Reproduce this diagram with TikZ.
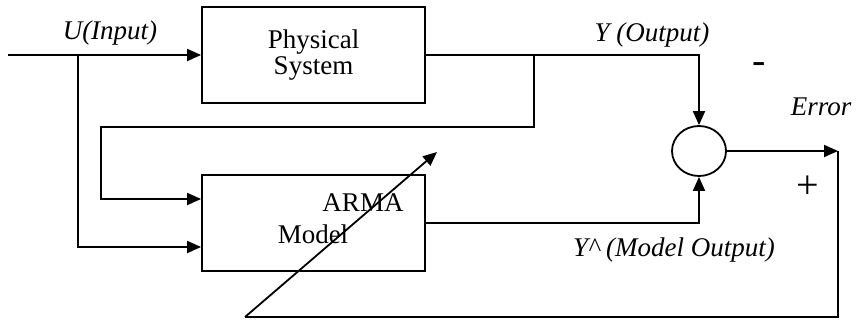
\documentclass[tikz,border=0pt]{standalone}
\usepackage{fontspec}
\setmainfont{Liberation Serif}
\usetikzlibrary{arrows.meta,shapes.geometric}
\begin{document}
\begin{tikzpicture}[x=0.5pt,y=-0.5pt,
  line width=0.9pt,
  arr/.style={-{Triangle[length=7pt,width=6pt]}},
  blockbox/.style={draw,rectangle,minimum width=111.5pt,minimum height=48pt,
    inner sep=0pt,align=center,font=\fontsize{13.5}{15}\selectfont},
  sumnode/.style={draw,ellipse,minimum width=27pt,minimum height=25pt,inner sep=0pt},
  lbl/.style={font=\fontsize{13.5}{15}\selectfont\itshape,inner sep=0pt},
  sgn/.style={font=\fontsize{20}{22}\selectfont,inner sep=0pt}]
\useasboundingbox (0,0) rectangle (856,322);

% blocks
\node[blockbox] (phys) at (313.5,55) {Physical\\[-2pt]System};
\node[blockbox] (arma) at (313.5,223) {};
\node[font=\fontsize{13.5}{15}\selectfont,inner sep=0pt] (armatxt) at (363,203) {ARMA};
\node[font=\fontsize{13.5}{15}\selectfont,inner sep=0pt] (modeltxt) at (313,234) {Model};
\node[sumnode] (sum) at (699,151) {};

% junction and corner points
\coordinate (in) at (8,55);
\coordinate (ub) at (78,55);
\coordinate (yb) at (534,55);
\coordinate (fb1) at (534,127);
\coordinate (fb2) at (101,127);
\coordinate (err) at (838,151);
\coordinate (tune) at (245,317);
\coordinate (tunetip) at (437,152);

% signal paths
\draw[arr] (in) -- (phys.west);
\draw[arr] (ub) |- ([yshift=-12pt]arma.west);
\draw[arr] (phys.east) -| (sum.north);
\draw[arr] (yb) -- (fb1) -- (fb2) |- ([yshift=12pt]arma.west);
\draw[arr] (arma.east) -| (sum.south);
\draw[arr] (sum.east) -- (err);
\draw (err) |- (tune);
\draw[arr] (tune) -- (tunetip);

% labels
\node[lbl] (ulbl) at (110,33) {U(Input)};
\node[lbl] (ylbl) at (652,35) {Y (Output)};
\node[lbl] (elbl) at (821,107) {Error};
\node[lbl] (mlbl) at (674,250) {Y\^{} (Model Output)};
\node[sgn] (minus) at (759,68) {-};
\node[sgn] (plus) at (808,187) {+};
\end{tikzpicture}
\end{document}
